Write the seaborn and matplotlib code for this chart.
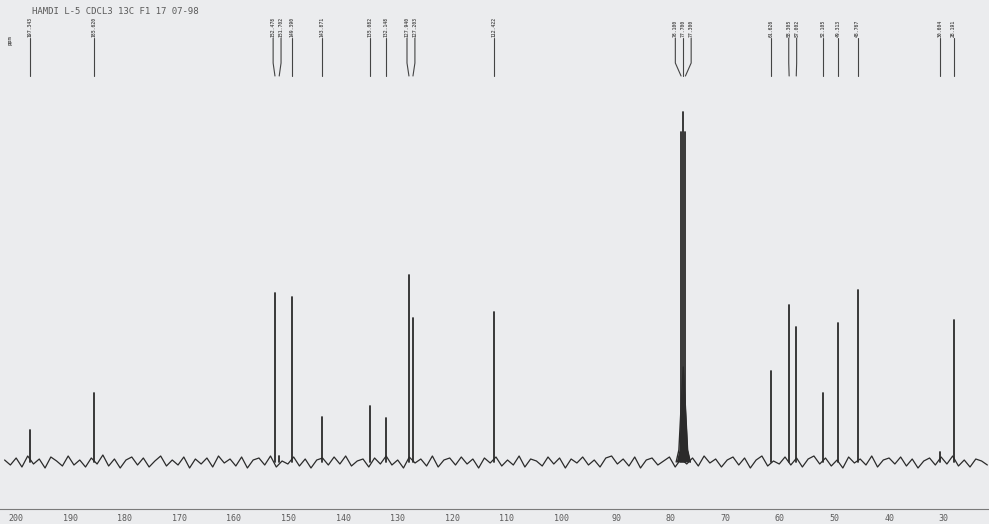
import numpy as np
import pandas as pd
import matplotlib
matplotlib.use("Agg")
import matplotlib.pyplot as plt
import seaborn as sns

# ---------------- data ----------------
title_text = "HAMDI L-5 CDCL3 13C F1 17 07-98"
peak_ppm = [197.343, 185.620, 152.478, 151.702, 149.390, 143.871, 135.082, 132.148,
            127.940, 127.203, 112.422, 78.100, 77.700, 77.300, 61.626, 58.305,
            57.002, 52.105, 49.313, 45.767, 30.604, 28.191]
peak_height = [32, 69, 169, 6, 165, 45, 56, 44, 187, 144, 150, 330, 350, 330,
               91, 157, 135, 69, 139, 172, 10, 142]
tick_values = [200, 190, 180, 170, 160, 150, 140, 130, 120, 110, 100, 90, 80, 70, 60, 50, 40, 30]
# baseline noise (202 -> 22 ppm)
noise = [2, -3, 4, -5, 6, -2, 3, -6, 5, 1, -4, 6, -3, 2, -5, 4, -2, 7, -4, 3,
         -6, 2, 5, -3, 4, -5, 1, 6, -4, 2, -3, 5, -6, 3, -2, 4, -5, 6, -1, 3,
         -4, 5, -6, 2, 4, -3, 6, -5, 1, -2, 5, -4, 3, -6, 2, 4, -3, 5, -2, 6,
         -4, 1, 3, -5, 4, -2, 6, -3, 2, -6, 5, -1, 3, -4, 6, -5, 2, 4, -3, 5,
         -2, 3, -6, 4, -1, 5, -4, 2, -3, 6, -5, 3, 1, -4, 5, -2, 4, -6, 3, -1,
         5, -3, 2, -5, 4, 6, -2, 3, -4, 5, -6, 2, 4, -3, 1, 5, -5, 3, -2, 4,
         -4, 6, -1, 3, -5, 2, 5, -3, 4, -6, 2, 6, -4, 1, -2, 5, -3, 4, -5, 3,
         6, -2, 4, -4, 2, -6, 5, -1, 3, -3, 6, -5, 2, 4, -2, 5, -4, 3, -6, 1,
         4, -3, 5, -2, 6, -4, 2, -5, 3, 1, -3]
cdcl3_base_ppm = [79.0, 78.5, 78.1, 77.7, 77.3, 76.9, 76.4]
cdcl3_base_h = [0, 12, 55, 95, 55, 12, 0]

# ---------------- figure ----------------
BG = "#ebecee"
INK = "#2b2b2b"
TXT = "#5a5a5a"
sns.set_theme(style="white")
plt.rcParams["font.family"] = ["DejaVu Sans Mono", "DejaVu Sans"]

fig = plt.figure(figsize=(9.89, 5.24), dpi=100, facecolor=BG)
H = 524.0
ax = fig.add_axes([0.0, (H - 509) / H, 1.0, (509 - 100) / H])
ax.set_facecolor(BG)

base_ppm = np.linspace(202, 22, len(noise))
base_df = pd.DataFrame({"ppm": base_ppm, "h": noise})
sns.lineplot(data=base_df, x="ppm", y="h", ax=ax, color=INK, lw=0.9,
             sort=False, estimator=None)

rows = []
for i, (p, h) in enumerate(zip(peak_ppm, peak_height)):
    rows.append({"ppm": p, "h": 0, "pk": i})
    rows.append({"ppm": p, "h": h, "pk": i})
pk_df = pd.DataFrame(rows)
sns.lineplot(data=pk_df, x="ppm", y="h", units="pk", estimator=None, ax=ax,
             color=INK, lw=1.3, sort=False, legend=False)

cd_df = pd.DataFrame({"ppm": cdcl3_base_ppm, "h": cdcl3_base_h})
sns.lineplot(data=cd_df, x="ppm", y="h", ax=ax, color=INK, lw=1.0, sort=False)
ax.fill_between(cdcl3_base_ppm, 0, cdcl3_base_h, color=INK, lw=0)

ax.set_xlim(202.84, 21.7)
ax.set_ylim(-47, 362)
ax.set_xticks(tick_values)
ax.set_xticklabels([str(t) for t in tick_values], fontsize=6, color=TXT)
ax.tick_params(axis="x", direction="inout", length=4, width=0.6, color=TXT, pad=1.5)
ax.set_yticks([])
ax.set_xlabel("")
ax.set_ylabel("")
for s in ["top", "left", "right"]:
    ax.spines[s].set_visible(False)
ax.spines["bottom"].set_color("#7a7a7a")
ax.spines["bottom"].set_linewidth(0.8)
ax.spines["bottom"].set_linestyle((0, (6, 1)))

# ---------------- peak labels at top ----------------
trans = matplotlib.transforms.blended_transform_factory(ax.transData, fig.transFigure)
order = np.argsort(peak_ppm)[::-1]
label_pos = []
min_gap = 1.45
for k, idx in enumerate(order):
    p = peak_ppm[idx]
    if label_pos and label_pos[-1] - p < min_gap:
        p = label_pos[-1] - min_gap
    label_pos.append(p)
label_pos = np.array(label_pos)
true_pos = np.array([peak_ppm[i] for i in order])
groups = []
start = 0
for k in range(1, len(label_pos) + 1):
    if k == len(label_pos) or label_pos[k - 1] - label_pos[k] > min_gap + 1e-6:
        groups.append((start, k))
        start = k
for a, b in groups:
    shift = np.mean(true_pos[a:b]) - np.mean(label_pos[a:b])
    label_pos[a:b] += shift

y_lab_bot = (H - 38) / H
y_bend = (H - 63) / H
y_end = (H - 76) / H
for lp, idx in zip(label_pos, order):
    p = peak_ppm[idx]
    ax.text(lp, y_lab_bot + 0.002, f"{p:.3f}", rotation=90, fontsize=3.5,
            color=TXT, ha="center", va="bottom", transform=trans, fontweight="bold")
    ax.plot([lp, lp, p], [y_lab_bot, y_bend, y_end], transform=trans,
            color="#444444", lw=0.8, clip_on=False)

fig.text(32 / 989, (H - 11) / H, title_text, fontsize=6.5, color=TXT,
         ha="left", va="center")
fig.text(10 / 989, (H - 40) / H, "ppm", fontsize=4, color=TXT, rotation=90,
         ha="center", va="center", fontweight="bold")

fig.savefig("out.png", dpi=100, facecolor=BG)
